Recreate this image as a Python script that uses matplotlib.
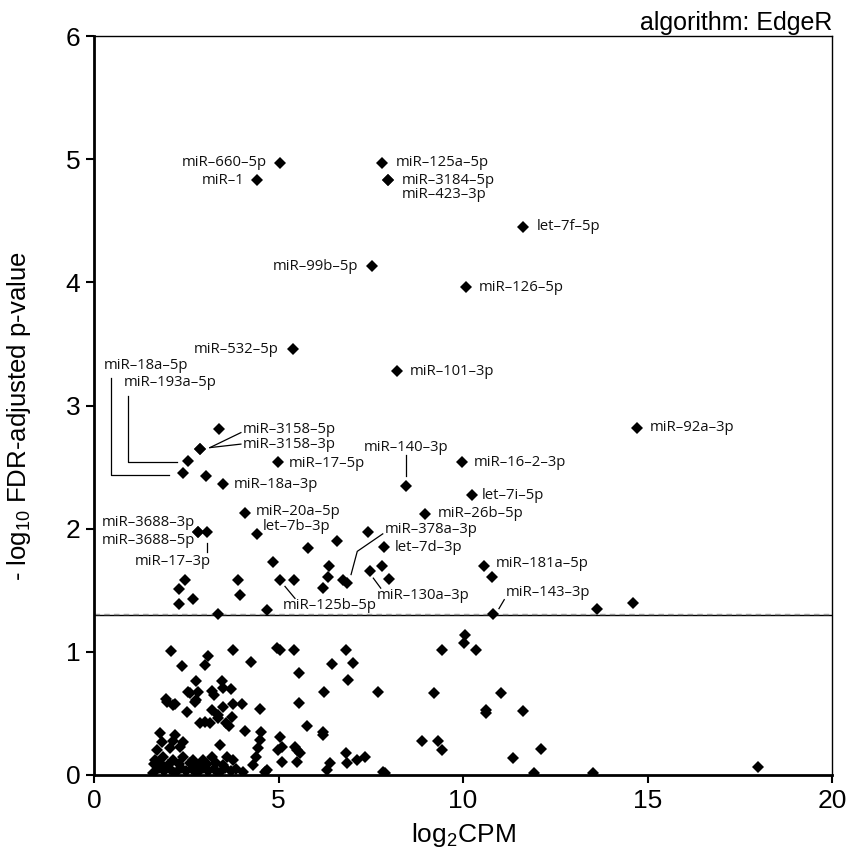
import matplotlib
matplotlib.use("Agg")
import matplotlib.pyplot as plt

plt.rcParams['font.family'] = ['Liberation Sans', 'DejaVu Sans']
plt.rcParams['mathtext.default'] = 'regular'

# labelled miRNAs: name, log2CPM, -log10 FDR
labels = ['miR–660–5p', 'miR–1', 'miR–125a–5p', 'miR–3184–5p', 'miR–423–3p',
          'let–7f–5p', 'miR–99b–5p', 'miR–126–5p', 'miR–532–5p', 'miR–101–3p',
          'miR–92a–3p', 'miR–3158–5p', 'miR–3158–3p', 'miR–193a–5p', 'miR–18a–5p',
          'miR–18a–3p', 'miR–17–5p', 'miR–20a–5p', 'let–7b–3p', 'miR–3688–3p',
          'miR–3688–5p', 'miR–17–3p', 'miR–125b–5p', 'miR–378a–3p', 'let–7d–3p',
          'miR–130a–3p', 'miR–140–3p', 'miR–16–2–3p', 'let–7i–5p', 'miR–26b–5p',
          'miR–181a–5p', 'miR–143–3p']
label_cpm = [5.04, 4.43, 7.81, 7.96, 7.96,
             11.62, 7.54, 10.08, 5.38, 8.20,
             14.72, 2.87, 2.87, 2.56, 2.40,
             3.50, 4.99, 4.09, 4.43, 2.83,
             2.83, 3.07, 5.04, 6.85, 7.86,
             7.48, 8.46, 9.96, 10.25, 8.97,
             10.57, 10.82]
label_fdr = [4.97, 4.83, 4.97, 4.83, 4.83,
             4.45, 4.13, 3.96, 3.46, 3.28,
             2.82, 2.65, 2.65, 2.55, 2.45,
             2.36, 2.54, 2.13, 1.96, 1.97,
             1.97, 1.97, 1.58, 1.56, 1.85,
             1.66, 2.35, 2.54, 2.27, 2.12,
             1.70, 1.31]

# remaining miRNAs
other_cpm = [3.39, 3.03, 6.58, 5.81, 7.43, 4.86, 6.38, 6.35, 6.21, 6.76, 7.80, 8.00,
             2.47, 2.29, 2.29, 2.67, 3.89, 3.96, 3.37, 4.68, 5.42, 10.79, 13.63, 14.62,
             2.08, 2.38, 3.10, 3.01, 3.78, 4.25, 4.95, 5.04, 5.42, 5.56, 6.83, 6.46,
             7.03, 6.87, 6.24, 7.69, 5.56, 5.78, 6.20, 6.21, 2.76, 3.46, 2.56, 2.83,
             3.19, 3.25, 3.50, 3.70, 1.95, 2.20, 2.51, 2.76, 3.19, 3.37, 3.49, 3.73,
             3.78, 4.00, 4.50, 2.87, 3.01, 3.14, 3.37, 3.58, 3.67, 4.09, 4.52, 4.50,
             4.45, 4.39, 4.30, 5.04, 5.09, 5.09, 5.45, 5.58, 5.49, 6.40, 6.31, 6.83,
             6.85, 7.12, 7.34, 7.84, 4.63, 4.05, 7.89, 10.05, 10.03, 9.42, 10.34, 9.22,
             11.02, 10.62, 10.62, 11.62, 8.88, 9.33, 9.44, 11.35, 12.11, 11.92, 13.51, 18.00,
             1.97, 2.15, 2.60, 2.74, 4.99, 5.49, 4.68,
             2.20, 1.83, 2.42, 1.70, 2.06, 2.33, 1.65, 1.88, 2.15, 2.42, 2.69, 2.96,
             3.19, 3.41, 3.60, 3.77, 1.79, 2.15,
             1.60, 1.75, 1.90, 2.05, 2.20, 2.35, 2.50, 2.65, 2.80, 2.95, 3.10, 3.25,
             3.40, 3.55, 3.70, 3.85,
             1.62, 1.80, 2.00, 2.30, 2.60, 2.85, 3.05, 3.30, 3.50]
other_fdr = [2.81, 2.43, 1.90, 1.84, 1.97, 1.73, 1.70, 1.61, 1.52, 1.58, 1.70, 1.59,
             1.58, 1.51, 1.39, 1.43, 1.58, 1.46, 1.31, 1.34, 1.58, 1.61, 1.35, 1.40,
             1.01, 0.885, 0.966, 0.893, 1.015, 0.92, 1.03, 1.015, 1.015, 0.83, 1.015, 0.90,
             0.907, 0.77, 0.676, 0.67, 0.587, 0.40, 0.35, 0.325, 0.766, 0.766, 0.676, 0.676,
             0.68, 0.65, 0.71, 0.70, 0.615, 0.577, 0.51, 0.61, 0.53, 0.49, 0.555, 0.473,
             0.58, 0.577, 0.536, 0.425, 0.433, 0.425, 0.46, 0.42, 0.40, 0.36, 0.35, 0.284,
             0.217, 0.149, 0.081, 0.31, 0.23, 0.108, 0.23, 0.176, 0.108, 0.095, 0.04, 0.176,
             0.10, 0.12, 0.149, 0.027, 0.027, 0.027, 0.014, 1.14, 1.07, 1.015, 1.015, 0.663,
             0.663, 0.528, 0.506, 0.52, 0.276, 0.276, 0.203, 0.135, 0.209, 0.014, 0.014, 0.068,
             0.595, 0.568, 0.666, 0.595, 0.20, 0.20, 0.04,
             0.325, 0.27, 0.27, 0.203, 0.217, 0.23, 0.12, 0.15, 0.12, 0.15, 0.12, 0.12,
             0.15, 0.24, 0.15, 0.12, 0.34, 0.28,
             0.02, 0.06, 0.03, 0.05, 0.02, 0.06, 0.03, 0.05, 0.02, 0.06, 0.03, 0.05,
             0.02, 0.06, 0.03, 0.05,
             0.09, 0.10, 0.08, 0.09, 0.10, 0.08, 0.09, 0.10, 0.08]

fdr_cutoff = 1.30103  # -log10(0.05)

# text placement (pixels from the marker) and leader lines
# name: (dx, dy, ha, leader polyline or None)
label_pos = {
    'miR–660–5p': (-13, 0, 'right', None),
    'miR–1': (-13, 0, 'right', None),
    'miR–125a–5p': (14, 0, 'left', None),
    'miR–3184–5p': (14, 0, 'left', None),
    'miR–423–3p': (14, -14, 'left', None),
    'let–7f–5p': (14, 0, 'left', None),
    'miR–99b–5p': (-14, 0, 'right', None),
    'miR–126–5p': (13, 0, 'left', None),
    'miR–532–5p': (-14, -1, 'right', None),
    'miR–101–3p': (13, 0, 'left', None),
    'miR–92a–3p': (13, 0, 'left', None),
    'miR–3158–5p': (43, 19, 'left', [(10, 1), (41, 16)]),
    'miR–3158–3p': (43, 4, 'left', [(10, 1), (41, 4.5)]),
    'miR–193a–5p': (-65, 78, 'left', [(-60.5, 65), (-60.5, -0.7), (-11, -0.7)]),
    'miR–18a–5p': (-79, 108, 'left', [(-72, 95), (-72, -1.3), (-13.5, -1.3)]),
    'miR–18a–3p': (11, 0, 'left', None),
    'miR–17–5p': (11, -1, 'left', None),
    'miR–20a–5p': (11, 1, 'left', None),
    'let–7b–3p': (5, 7, 'left', None),
    'miR–3688–3p': (-3, 10, 'right', None),
    'miR–3688–5p': (-3, -8.5, 'right', None),
    'miR–17–3p': (-34, -29, 'center', [(0, -10.5), (0, -19.5)]),
    'miR–125b–5p': (3, -25, 'left', [(5, -6), (15, -18)]),
    'miR–378a–3p': (38, 53, 'left', [(36, 49), (10.5, 31.5), (4.3, 8.3)]),
    'let–7d–3p': (11, 0, 'left', None),
    'miR–130a–3p': (7, -24.5, 'left', [(3.3, -7.6), (10.7, -17.6)]),
    'miR–140–3p': (0, 38.5, 'center', [(0, 31), (0, 10)]),
    'miR–16–2–3p': (12, -0.5, 'left', None),
    'let–7i–5p': (10, 0, 'left', None),
    'miR–26b–5p': (12.5, 0, 'left', None),
    'miR–181a–5p': (11.5, 2.5, 'left', None),
    'miR–143–3p': (12.5, 21.5, 'left', [(11, 14), (5.7, 5)]),
}

W, H = 848, 850
fig = plt.figure(figsize=(W / 100, H / 100), dpi=100)
ax = fig.add_axes([94 / W, 1 - 775 / H, (832 - 94) / W, (775 - 36) / H])

ax.set_xlim(0, 20)
ax.set_ylim(0, 6)

ax.axhline(fdr_cutoff, color='black', lw=1.0, zorder=1)
ax.axhline(fdr_cutoff + 0.006, color='#999999', lw=1.0, ls=(0, (4, 3)), zorder=1)

ax.plot(other_cpm, other_fdr, ls='none', marker='D', ms=6.2, color='black', mew=0, zorder=3)
ax.plot(label_cpm, label_fdr, ls='none', marker='D', ms=6.2, color='black', mew=0, zorder=3)

fig.canvas.draw()
to_px = ax.transData
to_data = ax.transData.inverted()

for name, x, y in zip(labels, label_cpm, label_fdr):
    dx, dy, ha, leader = label_pos[name]
    ax.annotate(name, xy=(x, y), xytext=(dx, dy), textcoords='offset pixels',
                ha=ha, va='center', fontsize=10.7, family=['Open Sans', 'DejaVu Sans'],
                color='#111111', zorder=4)
    if leader:
        px, py = to_px.transform((x, y))
        pts = [to_data.transform((px + ox, py + oy)) for ox, oy in leader]
        ax.plot([p[0] for p in pts], [p[1] for p in pts], color='black', lw=0.9,
                zorder=2, clip_on=False)

ax.set_xticks([0, 5, 10, 15, 20])
ax.set_yticks([0, 1, 2, 3, 4, 5, 6])
ax.tick_params(direction='out', length=5.8, width=1.5, labelsize=19, pad=4)

for side in ['left', 'bottom']:
    ax.spines[side].set_linewidth(2)
for side in ['top', 'right']:
    ax.spines[side].set_linewidth(1)

ax.set_xlabel('log$_2$CPM', fontsize=19, labelpad=6)
ax.set_ylabel('- log$_{10}$ FDR-adjusted p-value', fontsize=18.5)
ax.yaxis.set_label_coords(-0.083, 0.485)
ax.set_title('algorithm: EdgeR', loc='right', fontsize=18, pad=4)

fig.savefig('out.png', dpi=100)
